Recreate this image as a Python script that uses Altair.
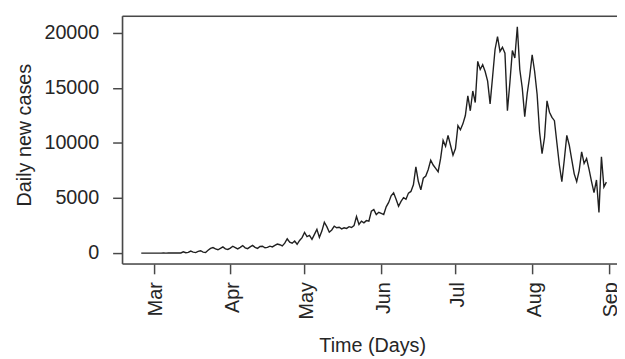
import altair as alt
import pandas as pd

# Daily new cases, one value per day starting 2020-02-25
start_date = "2020-02-25"
feb_mar_early = [0, 0, 0, 0, 0, 0, 0, 0, 0, 1, 0, 2, 3, 5, 7, 10, 12]
mar_mid = [120, 30, 60, 180, 90, 40, 150, 210, 90, 60]
mar_late = [250, 420, 500, 380, 300, 420, 560, 380, 330]
apr_early = [450, 620, 500, 380, 520, 680, 480, 400, 560, 700, 520, 430, 600, 620, 480, 520]
apr_late = [630, 560, 700, 820, 760, 650, 900, 1300, 1000, 900, 1100, 800, 1150, 1400]
may = [1880, 1500, 1600, 1250, 1700, 2150, 1430, 2000, 2800, 2400, 1900, 2100, 2450, 2300, 2350,
       2200, 2300, 2240, 2400, 2330, 2500, 3320, 2600, 2900, 2750, 2950, 2900, 3800, 3950, 3500, 3700]
jun = [3600, 3500, 4200, 4600, 5200, 5480, 4900, 4250, 4700, 5030, 4900, 5450, 5600, 6200, 7840,
       6500, 5750, 6800, 7000, 7600, 8440, 8000, 7700, 7390, 8600, 10240, 9700, 10690, 9800, 8890]
jul = [9500, 11580, 11200, 11740, 12500, 14280, 12930, 14730, 13680, 17420, 16680, 17120, 16500,
       15620, 13560, 16000, 18500, 19670, 18320, 18700, 18170, 12930, 15500, 18400, 17720, 20560,
       16680, 15000, 12400, 14500, 16070]
aug = [18020, 16500, 14430, 11000, 9040, 10500, 13830, 12800, 12330, 12030, 10000, 8000, 6490, 8500,
       10690, 9800, 8500, 7200, 6490, 7500, 9190, 8140, 8590, 7600, 6500, 5500, 6640, 3700, 8740,
       6000, 6450]

values = feb_mar_early + mar_mid + mar_late + apr_early + apr_late + may + jun + jul + aug
dates = pd.date_range(start_date, periods=len(values), freq="D").strftime("%Y-%m-%dT00:00:00")
df = pd.DataFrame({"date": list(dates), "cases": values})

y_ticks = [0, 5000, 10000, 15000, 20000]
tick_months = [3, 4, 5, 6, 7, 8, 9]
x_ticks = [alt.DateTime(year=2020, month=m, date=1) for m in tick_months]
x_domain = [alt.DateTime(year=2020, month=2, date=17, hours=10),
            alt.DateTime(year=2020, month=9, date=4, hours=7)]
y_domain = [-987, 21525]

W, H = 501, 251
FONT = "Liberation Sans"
TXT = "#262626"
BOX = "#484848"
FS = 20

line = alt.Chart(df).mark_line(color="#202020", strokeWidth=1.4).encode(
    x=alt.X("date:T", scale=alt.Scale(domain=x_domain),
            axis=alt.Axis(values=x_ticks, format="%b", formatType="time", labelAngle=270,
                          labelAlign="right", labelBaseline="middle", labelOffset=2,
                          tickSize=10, tickWidth=1.5, tickColor=BOX, labelPadding=8,
                          labelFontSize=FS, labelFont=FONT, labelColor=TXT,
                          domain=False, grid=False, title="Time (Days)",
                          titleFont=FONT, titleFontSize=FS, titleFontWeight="normal",
                          titleColor=TXT, titleX=253, titleAlign="center",
                          titleY=89, titleBaseline="alphabetic")),
    y=alt.Y("cases:Q", scale=alt.Scale(domain=y_domain, nice=False, zero=False),
            axis=alt.Axis(values=y_ticks, format="d", tickSize=10, tickWidth=1.5,
                          tickColor=BOX, labelPadding=14, labelFontSize=FS, labelFont=FONT,
                          labelColor=TXT, domain=False, grid=False, title="Daily new cases",
                          titleFont=FONT, titleFontSize=FS, titleFontWeight="normal",
                          titleColor=TXT, titleAngle=270, titleX=-99, titleY=120,
                          titleAlign="center", titleBaseline="middle")),
)

box_src = pd.DataFrame({"k": [0]})
top_rule = alt.Chart(box_src).mark_rule(color=BOX, strokeWidth=1.6).encode(
    x=alt.value(0), x2=alt.value(W), y=alt.value(0))
bottom_rule = alt.Chart(box_src).mark_rule(color=BOX, strokeWidth=1.6).encode(
    x=alt.value(0), x2=alt.value(W), y=alt.value(H))
left_rule = alt.Chart(box_src).mark_rule(color=BOX, strokeWidth=1.6).encode(
    x=alt.value(0), y=alt.value(0), y2=alt.value(H))

chart = alt.layer(line, top_rule, bottom_rule, left_rule).properties(
    width=W, height=H,
    autosize=alt.AutoSizeParams(type="none"),
    padding={"left": 116, "top": 6, "right": 0, "bottom": 93},
).configure_view(stroke=None).configure(background="white")

chart.save("out.html", embed_options={"renderer": "svg", "actions": False})
